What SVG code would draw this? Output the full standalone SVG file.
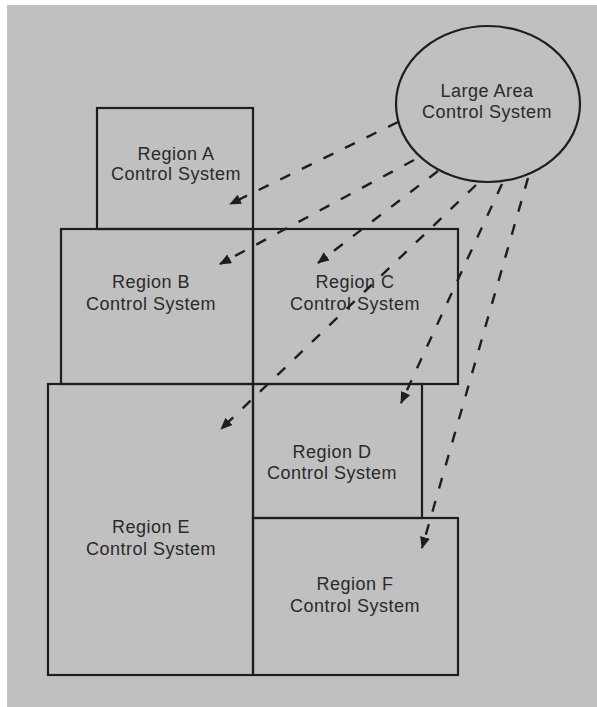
<svg xmlns="http://www.w3.org/2000/svg" width="597" height="707" viewBox="0 0 597 707">
  <defs>
    <marker id="arrow" markerUnits="userSpaceOnUse" markerWidth="12" markerHeight="10" refX="11" refY="5" orient="auto">
      <path d="M0,0 L12,5 L0,10 Z" fill="#1e1e1e"/>
    </marker>
  </defs>
  <style>
    .box { fill: none; stroke: #1e1e1e; stroke-width: 2.2; }
    .oval { fill: none; stroke: #1e1e1e; stroke-width: 2.2; }
    .lbl { font-family: "Liberation Sans", Arial, sans-serif; font-size: 18px; fill: #2a2a2a; text-anchor: middle; letter-spacing: 0.5px; }
    .conn { fill: none; stroke: #1e1e1e; stroke-width: 2.4; stroke-dasharray: 11 13; marker-end: url(#arrow); }
  </style>
  <rect x="0" y="0" width="597" height="707" fill="#ffffff"/>
  <rect x="7" y="5" width="590" height="702" fill="#c0c0c0"/>

  <g id="large-area">
    <ellipse class="oval" cx="488" cy="104" rx="92" ry="78"/>
    <text class="lbl" x="487" y="97">Large Area</text>
    <text class="lbl" x="487" y="118">Control System</text>
  </g>
  <g id="region-a">
    <rect class="box" x="97" y="108" width="156" height="121"/>
    <text class="lbl" x="176" y="160">Region A</text>
    <text class="lbl" x="176" y="180">Control System</text>
  </g>
  <g id="region-b">
    <rect class="box" x="61" y="229" width="192" height="155"/>
    <text class="lbl" x="151" y="288">Region B</text>
    <text class="lbl" x="151" y="310">Control System</text>
  </g>
  <g id="region-c">
    <rect class="box" x="253" y="229" width="205" height="155"/>
    <text class="lbl" x="355" y="288">Region C</text>
    <text class="lbl" x="355" y="310">Control System</text>
  </g>
  <g id="region-e">
    <rect class="box" x="48" y="384" width="205" height="291"/>
    <text class="lbl" x="151" y="533">Region E</text>
    <text class="lbl" x="151" y="555">Control System</text>
  </g>
  <g id="region-d">
    <rect class="box" x="253" y="384" width="169" height="134"/>
    <text class="lbl" x="332" y="458">Region D</text>
    <text class="lbl" x="332" y="479">Control System</text>
  </g>
  <g id="region-f">
    <rect class="box" x="253" y="518" width="205" height="157"/>
    <text class="lbl" x="355" y="590">Region F</text>
    <text class="lbl" x="355" y="612">Control System</text>
  </g>

  <g id="connectors">
    <line class="conn" x1="398" y1="122" x2="230" y2="204"/>
    <line class="conn" x1="414" y1="160" x2="220" y2="264"/>
    <line class="conn" x1="438" y1="171" x2="318" y2="263"/>
    <line class="conn" x1="476" y1="185" x2="221" y2="429"/>
    <line class="conn" x1="502" y1="184" x2="401" y2="403"/>
    <line class="conn" x1="528" y1="178" x2="422" y2="548"/>
  </g>
</svg>
